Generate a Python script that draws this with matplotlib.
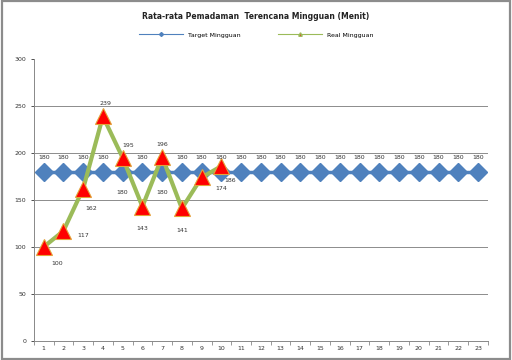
import numpy as np
import matplotlib.pyplot as plt
from matplotlib.patches import Rectangle
from matplotlib.lines import Line2D

# data
weeks = list(range(1, 24))
target = [180] * 23
real_weeks = list(range(1, 11))
real = [100, 117, 162, 239, 195, 143, 196, 141, 174, 186]
real_labels = ["100", "117", "162", "239", "195", "143", "196", "141", "174", "186"]
# offsets for the real labels (points)
real_offsets = [(10, -12), (14, -3), (6, -14), (2, 9), (4, 9), (0, -16), (0, 9), (0, -16), (14, -8), (6, -10)]

fig = plt.figure(figsize=(5.12, 3.6), dpi=100)
fig.patches.append(Rectangle((0.003, 0.004), 0.994, 0.992, transform=fig.transFigure,
                             fill=False, edgecolor="#8c8c8c", linewidth=1.6))
ax = fig.add_axes([0.066, 0.053, 0.887, 0.783])

x_t = np.arange(len(weeks))
x_r = np.arange(len(real_weeks))

ax.plot(x_t, target, color="#4F81BD", linewidth=2.5, marker="D", markersize=9,
        markerfacecolor="#4F81BD", markeredgecolor="#4F81BD", zorder=3)
ax.plot(x_r, real, color="#9BBB59", linewidth=3, marker="^", markersize=11,
        markerfacecolor="#FF0000", markeredgecolor="#E3A43A", markeredgewidth=0.8, zorder=4)

for i, v in enumerate(target):
    dy = -15 if i in (4, 6) else 10
    ax.annotate(str(v), (x_t[i], v), xytext=(0, dy), textcoords="offset points",
                ha="center", va="center", fontsize=4.5, color="#333333", zorder=5)
for i, v in enumerate(real):
    ax.annotate(real_labels[i], (x_r[i], v), xytext=real_offsets[i], textcoords="offset points",
                ha="center", va="center", fontsize=4.5, color="#333333", zorder=5)

ax.set_xlim(-0.5, len(weeks) - 0.5)
ax.set_ylim(0, 300)
ax.set_yticks(range(0, 301, 50))
ax.set_xticks(x_t)
ax.set_xticklabels([str(w) for w in weeks])
ax.tick_params(labelsize=4.5, length=2, colors="#333333", width=0.6)
ax.set_xticks(np.arange(-0.5, len(weeks), 1), minor=True)
ax.tick_params(axis="x", which="major", length=0)
ax.tick_params(axis="x", which="minor", length=3, width=0.6, color="#888888")
for y in range(50, 300, 50):
    ax.axhline(y, color="#8c8c8c", linewidth=0.7, zorder=0)
for s in ["top", "right"]:
    ax.spines[s].set_visible(False)
for s in ["left", "bottom"]:
    ax.spines[s].set_color("#888888")
    ax.spines[s].set_linewidth(0.7)

fig.text(0.5, 0.955, "Rata-rata Pemadaman  Terencana Mingguan (Menit)", ha="center", va="center",
         fontsize=5.5, fontweight="bold", color="#222222")
handles = [
    Line2D([], [], color="#4F81BD", linewidth=0.8, marker="D", markersize=2),
    Line2D([], [], color="#9BBB59", linewidth=0.8, marker="^", markersize=2.5,
           markerfacecolor="#FF0000", markeredgecolor="#9BBB59"),
]
fig.legend(handles, ["Target Mingguan", "Real Mingguan"], loc="center", bbox_to_anchor=(0.5, 0.903),
           ncol=2, frameon=False, fontsize=4.5, handlelength=7, columnspacing=6)

fig.savefig("out.png", dpi=100)
